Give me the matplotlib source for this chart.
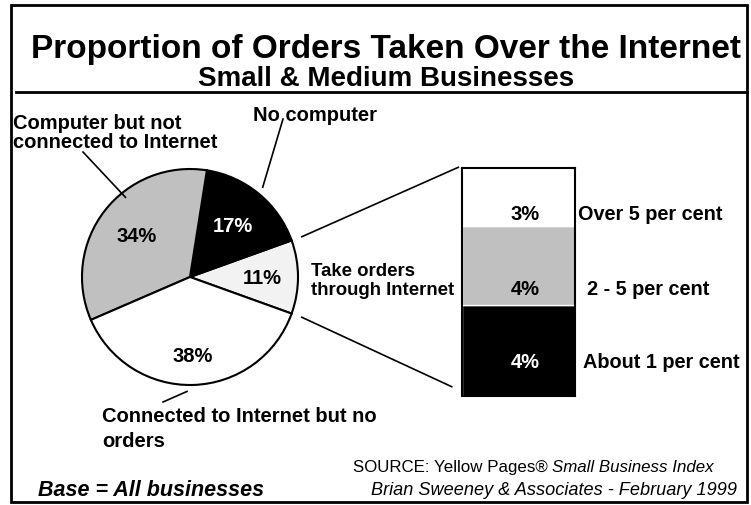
import numpy as np
import matplotlib
matplotlib.use("Agg")
import matplotlib.pyplot as plt
from matplotlib.patches import Rectangle

plt.rcParams["font.family"] = ["Liberation Sans", "DejaVu Sans"]

# pie: share of businesses, counter-clockwise from the "take orders" slice
pie_labels = ["Take orders\nthrough Internet", "No computer",
              "Computer but not\nconnected to Internet",
              "Connected to Internet but no\norders"]
pie_values = [11, 17, 34, 38]
pie_colors = ["#f2f2f2", "#000000", "#c0c0c0", "#ffffff"]

# breakdown of the 11% that take orders online (bottom to top)
bar_labels = ["About 1 per cent", "2 - 5 per cent", "Over 5 per cent"]
bar_values = [4.4, 3.8, 2.8]
bar_text = ["4%", "4%", "3%"]
bar_colors = ["#000000", "#c0c0c0", "#ffffff"]

W, H = 751, 506
fig = plt.figure(figsize=(W / 100, H / 100), dpi=100)
ax = fig.add_axes([0, 0, 1, 1])

# pie geometry in pixel units
cx, cy, R = 190, 228, 108
start = -pie_values[0] / 100 * 360 / 2
ax.pie(pie_values, colors=pie_colors, startangle=start, counterclock=True,
       center=(cx, cy), radius=R,
       wedgeprops=dict(edgecolor="black", linewidth=1.5))
ax.set_xlim(0, W)
ax.set_ylim(0, H)
ax.set_aspect("auto")
ax.axis("off")

# percentages inside the slices
angles = start + np.cumsum([0] + pie_values[:-1]) / 100 * 360 + np.array(pie_values) / 100 * 360 / 2
pct_dist = [0.67, 0.62, 0.62, 0.73]
for v, a, d, c in zip(pie_values, angles, pct_dist, pie_colors):
    t = np.radians(a)
    ax.text(cx + d * R * np.cos(t), cy + d * R * np.sin(t), f"{v}%",
            ha="center", va="center", fontsize=14.5, fontweight="bold",
            color="white" if c == "#000000" else "black")

# slice labels with leader lines
lab_fs = 14.5
ax.text(311, 225, pie_labels[0], ha="left", va="center", fontsize=13.4,
        fontweight="bold", linespacing=1.1)
ax.text(253, 391, pie_labels[1], ha="left", va="center", fontsize=lab_fs,
        fontweight="bold")
ax.text(13, 373, pie_labels[2], ha="left", va="center", fontsize=lab_fs,
        fontweight="bold", linespacing=1.0)
ax.text(102, 77, pie_labels[3], ha="left", va="center", fontsize=lab_fs,
        fontweight="bold", linespacing=1.35)

def polar(ang, r):
    t = np.radians(ang)
    return cx + r * R * np.cos(t), cy + r * R * np.sin(t)

for (ang, r), (tx, ty) in [((129, 0.95), (83, 353)),
                           ((51, 1.07), (283, 386)),
                           ((268.5, 1.06), (163, 103))]:
    x0, y0 = polar(ang, r)
    ax.plot([x0, tx], [y0, ty], color="black", lw=1.2)

# stacked bar for the 11%
bx, by, bw, bh = 461.7, 109.3, 113.3, 227.7
axb = fig.add_axes([bx / W, by / H, bw / W, bh / H])
bottoms = np.cumsum([0] + bar_values[:-1])
axb.bar(0, bar_values, bottom=bottoms, width=1, color=bar_colors,
        edgecolor="white", linewidth=1)
axb.set_xlim(-0.5, 0.5)
axb.set_ylim(0, sum(bar_values))
axb.set_xticks([])
axb.set_yticks([])
for s in axb.spines.values():
    s.set_linewidth(1.5)

text_frac = [0.38, 0.2, 0.22]
side_x = [1.068, 1.103, 1.024]
for b, v, f, t, c, lab, sx in zip(bottoms, bar_values, text_frac, bar_text,
                                  bar_colors, bar_labels, side_x):
    y = b + f * v
    axb.text(0.06, y, t, ha="center", va="center", fontsize=14.5,
             fontweight="bold", color="white" if c == "#000000" else "black")
    axb.text(sx, y, lab, ha="left", va="center", fontsize=14.3,
             fontweight="bold", transform=axb.get_yaxis_transform(),
             clip_on=False)

# connectors from the 11% slice to the bar
for ang, (ex, ey) in [(19.8, (458.3, 337.7)), (-19.8, (451.7, 118.3))]:
    x0, y0 = polar(ang, 1.1)
    ax.plot([x0, ex], [y0, ey], color="black", lw=1.2)

# frame and title
ax.add_patch(Rectangle((11, 3), 736, 497, fill=False, lw=2, ec="black"))
ax.plot([16, 747], [413.3, 413.3], color="black", lw=2)
ax.text(386, 457, "Proportion of Orders Taken Over the Internet",
        ha="center", va="center", fontsize=24, fontweight="bold")
ax.text(386, 427, "Small & Medium Businesses", ha="center", va="center",
        fontsize=20, fontweight="bold")

# footer
fig.canvas.draw()
rend = fig.canvas.get_renderer()
it = ax.text(714, 38, "Small Business Index", ha="right", va="center",
             fontsize=12.2, fontstyle="italic")
ext = it.get_window_extent(rend)
ax.text(ext.x0, 38, "SOURCE: Yellow Pages® ", ha="right", va="center",
        fontsize=12.2)
ax.text(737, 15, "Brian Sweeney & Associates - February 1999", ha="right",
        va="center", fontsize=13.1, fontstyle="italic")
ax.text(38, 15, "Base = All businesses", ha="left", va="center",
        fontsize=15.5, fontweight="bold", fontstyle="italic")

fig.savefig("out.png", dpi=100)
